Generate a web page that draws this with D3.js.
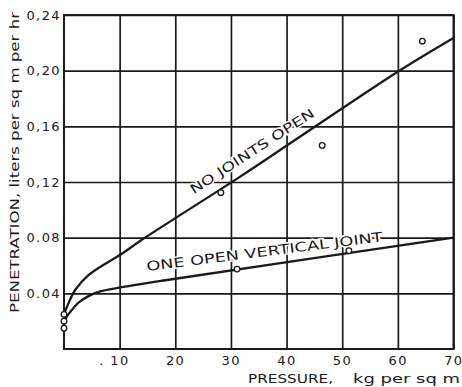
<!DOCTYPE html>
<html>
<head>
<meta charset="utf-8">
<script src="https://cdn.jsdelivr.net/npm/d3@7"></script>
<style>
  html, body { margin: 0; padding: 0; background: #fff; }
  svg { display: block; }
  text { font-family: "DejaVu Sans", sans-serif; fill: #1a1a1a; }
</style>
</head>
<body>
<svg id="chart" width="462" height="387"></svg>
<script>
// Pressure (kg per sq m) and penetration (liters per sq m per hr)
const noJointsP = [0, 0.8, 2, 4.4, 10.4, 14, 31.6, 42.4, 60.4, 70];
const noJointsV = [0.025, 0.0328, 0.0424, 0.0531, 0.0685, 0.0785, 0.1237, 0.1525, 0.2003, 0.2235];
const oneJointP = [0, 0.5, 1.4, 2.6, 4.4, 6.2, 10.4, 18.2, 70];
const oneJointV = [0.019, 0.0232, 0.028, 0.0333, 0.038, 0.0411, 0.0444, 0.0494, 0.080];

// Observed test points
const noJointsObsP = [28.2, 46.4, 64.4];
const noJointsObsV = [0.1123, 0.1463, 0.2212];
const oneJointObsP = [31.1, 51.2];
const oneJointObsV = [0.0574, 0.0706];
const zeroObsP = [0, 0, 0];
const zeroObsV = [0.0249, 0.0200, 0.0149];

// Axis ticks
const xTicks = [10, 20, 30, 40, 50, 60, 70];
const xTickLabels = [". 10", "20", "30", "40", "50", "60", "70"];
const yTicks = [0.04, 0.08, 0.12, 0.16, 0.20, 0.24];
const yTickLabels = ["0.04", "0.08", "0,12", "0,16", "0,20", "0,24"];

const svg = d3.select("#chart");
const ink = "#1a1a1a";

const x = d3.scaleLinear().domain([0, 70]).range([64, 453.5]);
const y = d3.scaleLinear().domain([0, 0.24]).range([349, 15]);

// Grid
const grid = svg.append("g");
grid.append("g")
  .attr("transform", `translate(0,${y(0)})`)
  .call(d3.axisBottom(x).tickValues(xTicks).tickSize(-(y(0) - y(0.24))).tickFormat(""))
  .call(g => g.select(".domain").remove())
  .call(g => g.selectAll("line").attr("stroke", ink).attr("stroke-width", 1.7));
grid.append("g")
  .attr("transform", `translate(${x(0)},0)`)
  .call(d3.axisLeft(y).tickValues(yTicks).tickSize(-(x(70) - x(0))).tickFormat(""))
  .call(g => g.select(".domain").remove())
  .call(g => g.selectAll("line").attr("stroke", ink).attr("stroke-width", 1.7));

// Frame
svg.append("rect")
  .attr("x", x(0)).attr("y", y(0.24))
  .attr("width", x(70) - x(0)).attr("height", y(0) - y(0.24))
  .attr("fill", "none").attr("stroke", ink).attr("stroke-width", 2);

// Tick labels
svg.append("g").selectAll("text")
  .data(yTicks)
  .join("text")
  .attr("x", x(0) - 3)
  .attr("y", d => y(d))
  .attr("dy", "0.36em")
  .attr("text-anchor", "end")
  .attr("font-size", 13)
  .attr("letter-spacing", 1.4)
  .text((d, i) => yTickLabels[i]);

svg.append("g").selectAll("text")
  .data(xTicks)
  .join("text")
  .attr("x", d => x(d) + 10)
  .attr("y", y(0) + 16)
  .attr("text-anchor", "end")
  .attr("font-size", 13)
  .attr("letter-spacing", 1.4)
  .text((d, i) => xTickLabels[i]);

// Axis titles
svg.append("text")
  .attr("transform", `translate(19,313) rotate(-90)`)
  .attr("font-size", 13)
  .attr("textLength", 301)
  .attr("lengthAdjust", "spacingAndGlyphs")
  .text("PENETRATION, liters per sq m per hr");

svg.append("text")
  .attr("x", 248).attr("y", 383)
  .attr("font-size", 13)
  .attr("textLength", 85)
  .attr("lengthAdjust", "spacingAndGlyphs")
  .text("PRESSURE,");
svg.append("text")
  .attr("x", 353).attr("y", 383)
  .attr("font-size", 13)
  .attr("textLength", 107)
  .attr("lengthAdjust", "spacingAndGlyphs")
  .text("kg per sq m");

// Curve labels, rotated to follow the straight part of each curve
function slopeAngle(pArr, vArr, i0, i1) {
  const dx = x(pArr[i1]) - x(pArr[i0]);
  const dy = y(vArr[i1]) - y(vArr[i0]);
  return Math.atan2(dy, dx) * 180 / Math.PI;
}

function curveLabel(text, p, v, angle, len) {
  svg.append("text")
    .attr("transform", `translate(${x(p)},${y(v)}) rotate(${angle})`)
    .attr("font-size", 13)
    .attr("textLength", len)
    .attr("lengthAdjust", "spacingAndGlyphs")
    .attr("stroke", "#fff")
    .attr("stroke-width", 3)
    .attr("paint-order", "stroke")
    .text(text);
}

curveLabel("NO JOINTS OPEN", 23.3, 0.1110, slopeAngle(noJointsP, noJointsV, 5, 9), 145);
curveLabel("ONE OPEN VERTICAL JOINT", 14.9, 0.0560, slopeAngle(oneJointP, oneJointV, 7, 8) + 1.2, 238);

// Curves
const line = d3.line()
  .x(d => x(d[0]))
  .y(d => y(d[1]))
  .curve(d3.curveCatmullRom.alpha(0.5));

[[noJointsP, noJointsV], [oneJointP, oneJointV]].forEach(([ps, vs]) => {
  svg.append("path")
    .attr("d", line(ps.map((p, i) => [p, vs[i]])))
    .attr("fill", "none")
    .attr("stroke", ink)
    .attr("stroke-width", 2.3)
    .attr("stroke-linecap", "round");
});

// Observation circles
const obs = [
  ...noJointsObsP.map((p, i) => [p, noJointsObsV[i]]),
  ...oneJointObsP.map((p, i) => [p, oneJointObsV[i]]),
  ...zeroObsP.map((p, i) => [p, zeroObsV[i]])
];
svg.append("g").selectAll("circle")
  .data(obs)
  .join("circle")
  .attr("cx", d => x(d[0]))
  .attr("cy", d => y(d[1]))
  .attr("r", 2.8)
  .attr("fill", "#fff")
  .attr("stroke", ink)
  .attr("stroke-width", 1.3);
</script>
</body>
</html>
